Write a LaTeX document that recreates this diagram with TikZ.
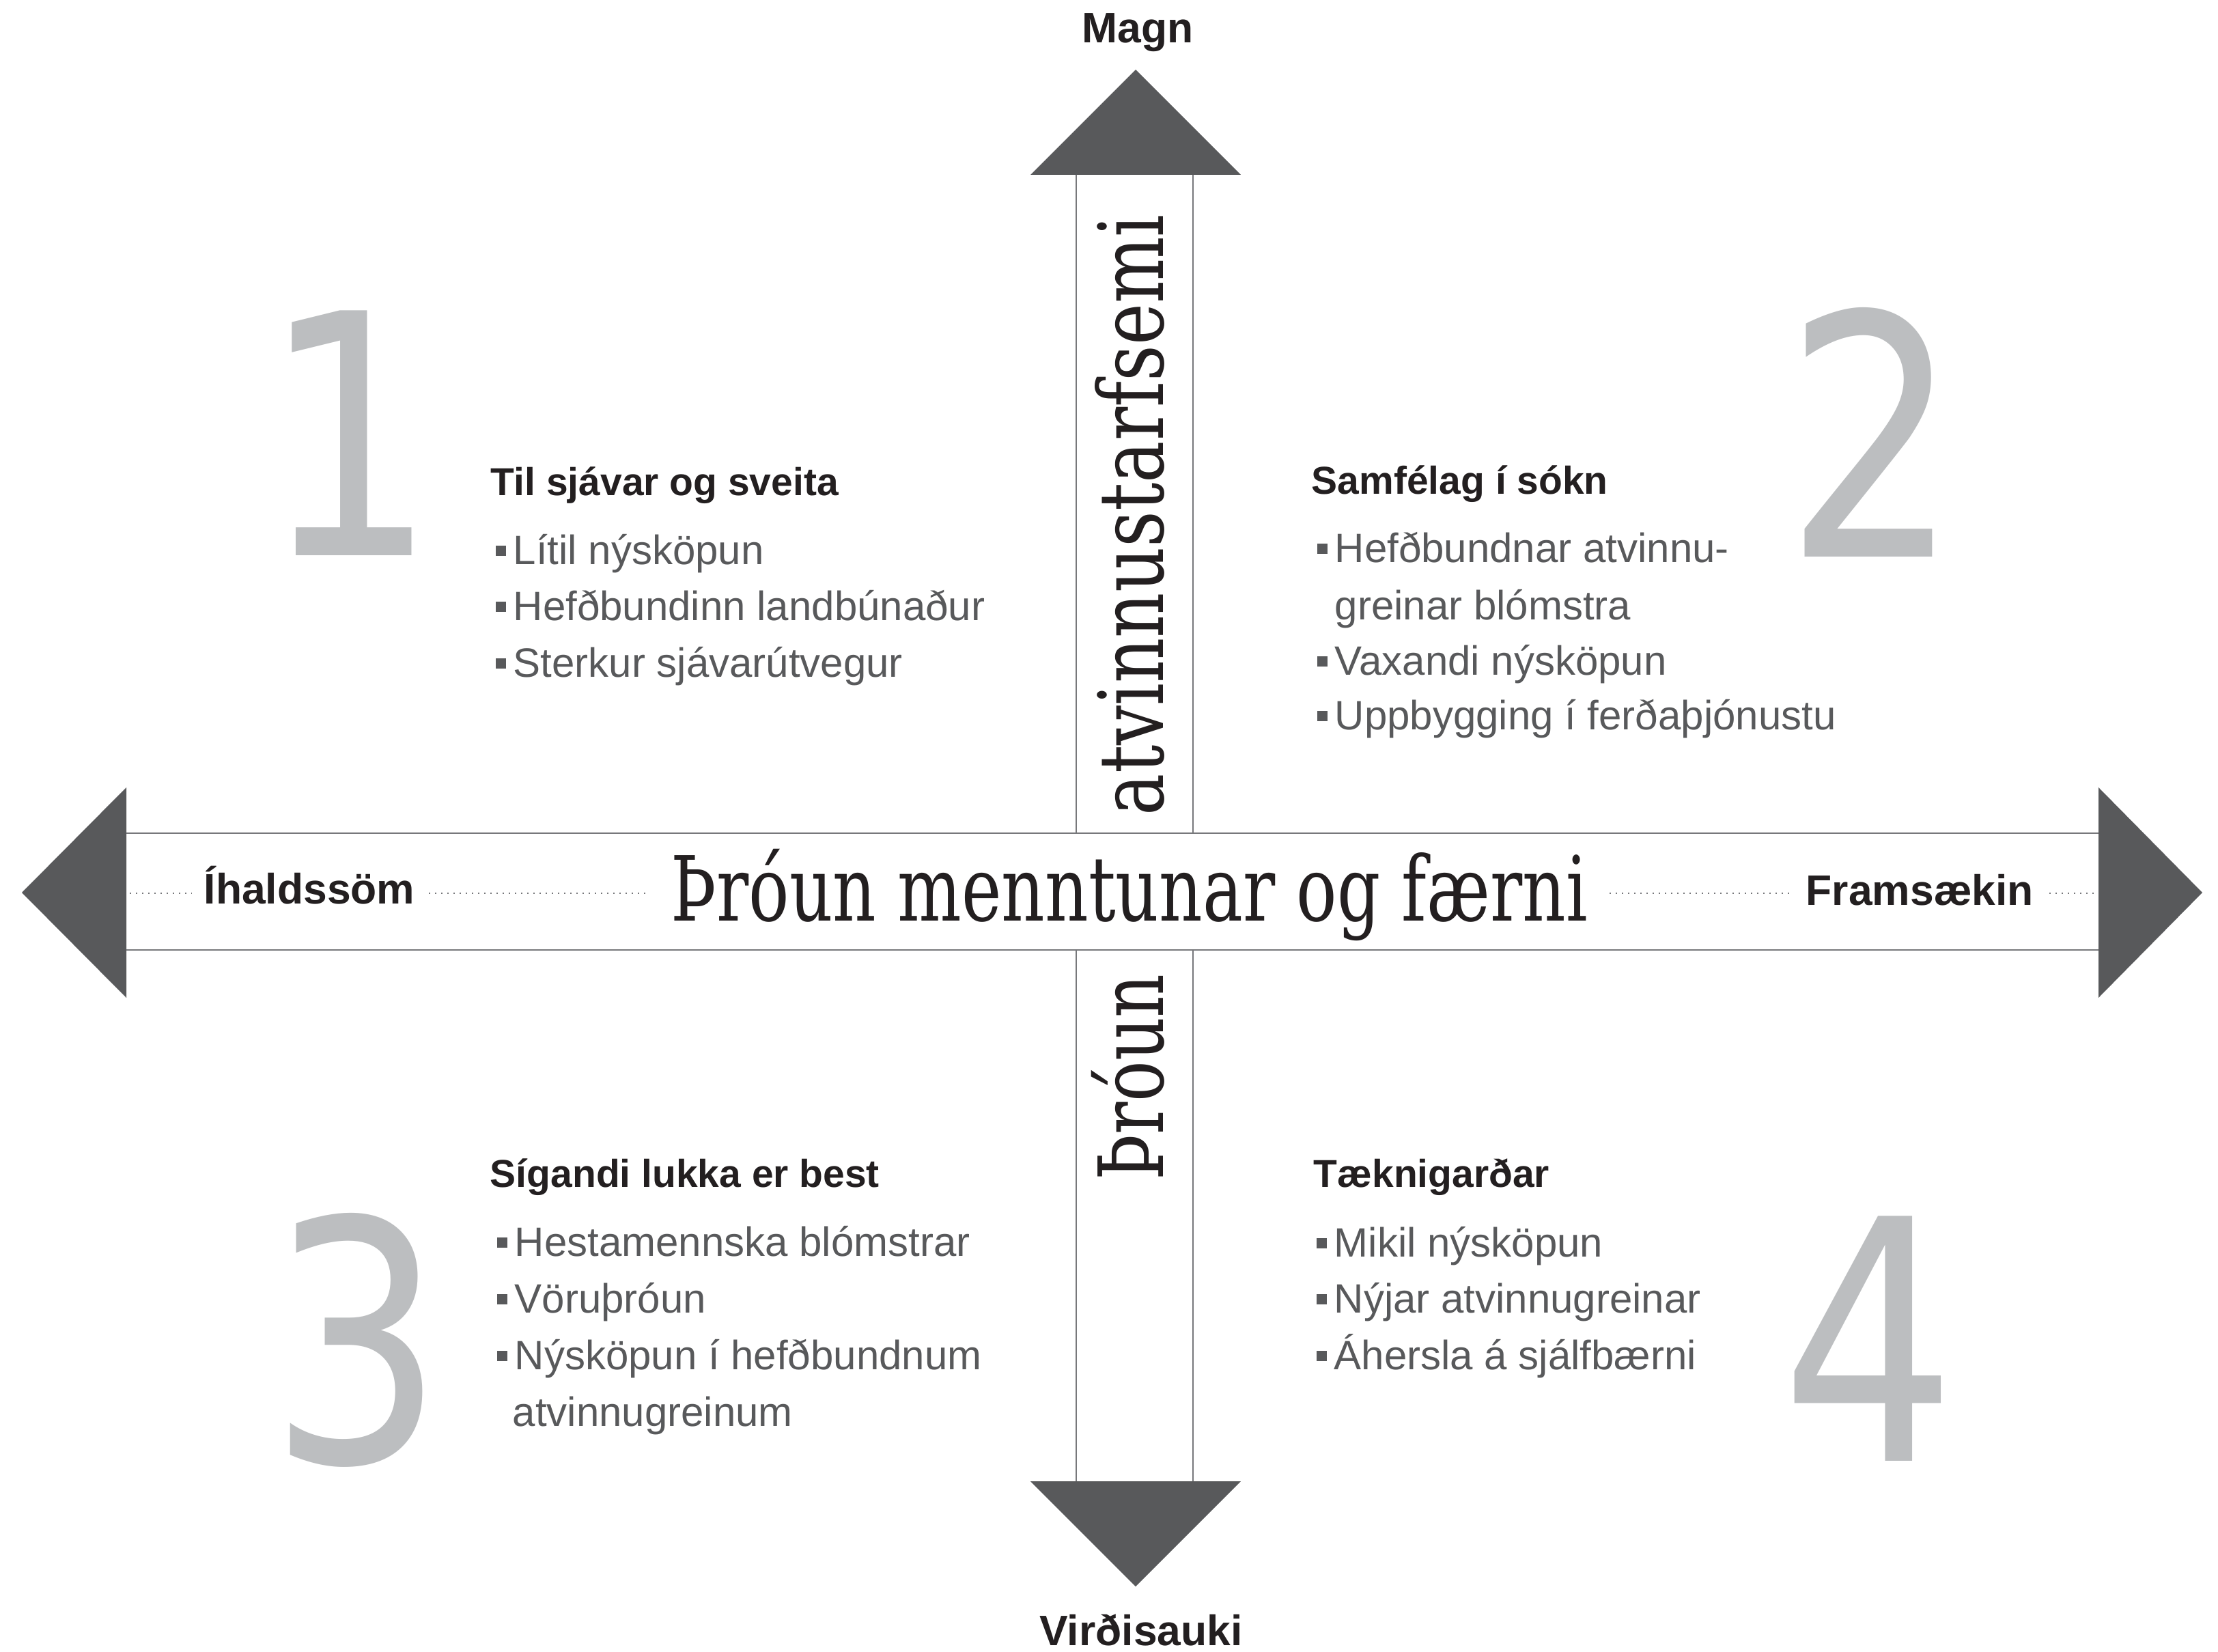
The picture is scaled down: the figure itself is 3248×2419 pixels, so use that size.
\documentclass[tikz,border=0pt]{standalone}
\usepackage{fontspec}
\usepackage{graphicx}
\setmainfont{Liberation Sans}
\newfontfamily\slabfont{DejaVu Serif}
\newfontfamily\digitfont{DejaVu Sans}
\definecolor{ink}{HTML}{231F20}
\definecolor{bodyc}{HTML}{58595B}
\definecolor{numc}{HTML}{BCBEC0}
\definecolor{arrowc}{HTML}{58595B}
\definecolor{linec}{HTML}{77787B}
\newdimen\pxu \pxu=0.25pt
\newcommand\fitw[2]{\resizebox{#1\pxu}{\height}{#2}}
\newcommand\narrow[1]{\scalebox{0.82}[1]{#1}}
\newcommand\bsq{\textcolor{bodyc}{\rule[3.1pt]{3.75pt}{3.75pt}}\hspace{2.75pt}}
\begin{document}
\begin{tikzpicture}[x=0.25pt,y=-0.25pt,
  title/.style={anchor=base west,inner sep=0,font=\bfseries\fontsize{14.25pt}{14.25pt}\selectfont,text=ink},
  item/.style={anchor=base west,inner sep=0,font=\fontsize{15pt}{15pt}\selectfont,text=bodyc},
  axislabel/.style={inner sep=0,font=\bfseries\fontsize{15.6pt}{15.6pt}\selectfont,text=ink},
  slab/.style={inner sep=0,font=\slabfont\fontsize{32.9pt}{32.9pt}\selectfont,text=ink},
  digit/.style={anchor=base,inner sep=0,font=\digitfont\fontsize{123pt}{123pt}\selectfont,text=numc},
  band/.style={draw=linec,line width=0.55pt},
  dots/.style={draw=linec,line width=0.5pt,dash pattern=on 0.5pt off 1.75pt},
  tri/.style={fill=arrowc}]
\useasboundingbox (0,0) rectangle (3248,2419);
\fill[white] (0,0) rectangle (3248,2419);
% arrow heads
\coordinate (upL) at (1509,256); \coordinate (upR) at (1817,256); \coordinate (upT) at (1663,102);
\coordinate (dnL) at (1509,2169); \coordinate (dnR) at (1817,2169); \coordinate (dnT) at (1663,2323);
\coordinate (lfT) at (185,1153); \coordinate (lfB) at (185,1461); \coordinate (lfP) at (32,1307);
\coordinate (rtT) at (3073,1153); \coordinate (rtB) at (3073,1461); \coordinate (rtP) at (3225,1307);
\fill[tri] (upL) -- (upT) -- (upR) -- cycle;
\fill[tri] (dnL) -- (dnT) -- (dnR) -- cycle;
\fill[tri] (lfT) -- (lfP) -- (lfB) -- cycle;
\fill[tri] (rtT) -- (rtP) -- (rtB) -- cycle;
% band lines
\draw[band] (185,1220) -- (3073,1220);
\draw[band] (185,1391) -- (3073,1391);
\draw[band] (1576,256) -- (1576,1220);
\draw[band] (1747,256) -- (1747,1220);
\draw[band] (1576,1391) -- (1576,2169);
\draw[band] (1747,1391) -- (1747,2169);
% dotted leaders
\draw[dots] (190,1308) -- (281,1308);
\draw[dots] (628,1308) -- (947,1308);
\draw[dots] (2357,1308) -- (2626,1308);
\draw[dots] (3001,1308) -- (3070,1308);
% central texts
\node[slab,anchor=base west] (main) at (982,1348) {\fitw{1342}{Þróun menntunar og færni}};
\node[slab,anchor=base west,rotate=90] (vlow) at (1703,1729) {\fitw{302}{Þróun}};
\node[slab,anchor=base west,rotate=90] (vup) at (1703,1195) {\fitw{880}{atvinnustarfsemi}};
% axis labels
\node[axislabel,anchor=base] (magn) at (1666,63) {Magn};
\node[axislabel,anchor=base] (virdi) at (1671,2409) {Virðisauki};
\node[axislabel,anchor=base west] (ihald) at (298,1323) {Íhaldssöm};
\node[axislabel,anchor=base west] (fram) at (2644,1325) {Framsækin};
% digits
\node[digit] (n1) at (512,813) {\narrow{1}};
\node[digit] (n2) at (2742,815) {\narrow{2}};
\node[digit] (n3) at (523,2141) {\narrow{3}};
\node[digit] (n4) at (2737,2139) {\narrow{4}};
% quadrant 1
\node[title] (t1) at (718,725) {Til sjávar og sveita};
\node[item] (a1) at (725,826) {\bsq Lítil nýsköpun};
\node[item] (a2) at (725,908) {\bsq Hefðbundinn landbúnaður};
\node[item] (a3) at (725,991) {\bsq Sterkur sjávarútvegur};
% quadrant 2
\node[title] (t2) at (1920,723) {Samfélag í sókn};
\node[item] (b1) at (1928,823) {\bsq Hefðbundnar atvinnu-};
\node[item] (b1c) at (1954,907) {greinar blómstra};
\node[item] (b2) at (1928,988) {\bsq Vaxandi nýsköpun};
\node[item] (b3) at (1928,1068) {\bsq Uppbygging í ferðaþjónustu};
% quadrant 3
\node[title] (t3) at (717,1738) {Sígandi lukka er best};
\node[item] (c1) at (727,1839) {\bsq Hestamennska blómstrar};
\node[item] (c2) at (727,1922) {\bsq Vöruþróun};
\node[item] (c3) at (727,2005) {\bsq Nýsköpun í hefðbundnum};
\node[item] (c3c) at (750,2088) {atvinnugreinum};
% quadrant 4
\node[title] (t4) at (1923,1738) {Tæknigarðar};
\node[item] (d1) at (1927,1840) {\bsq Mikil nýsköpun};
\node[item] (d2) at (1927,1922) {\bsq Nýjar atvinnugreinar};
\node[item] (d3) at (1927,2005) {\bsq Áhersla á sjálfbærni};
\end{tikzpicture}
\end{document}
